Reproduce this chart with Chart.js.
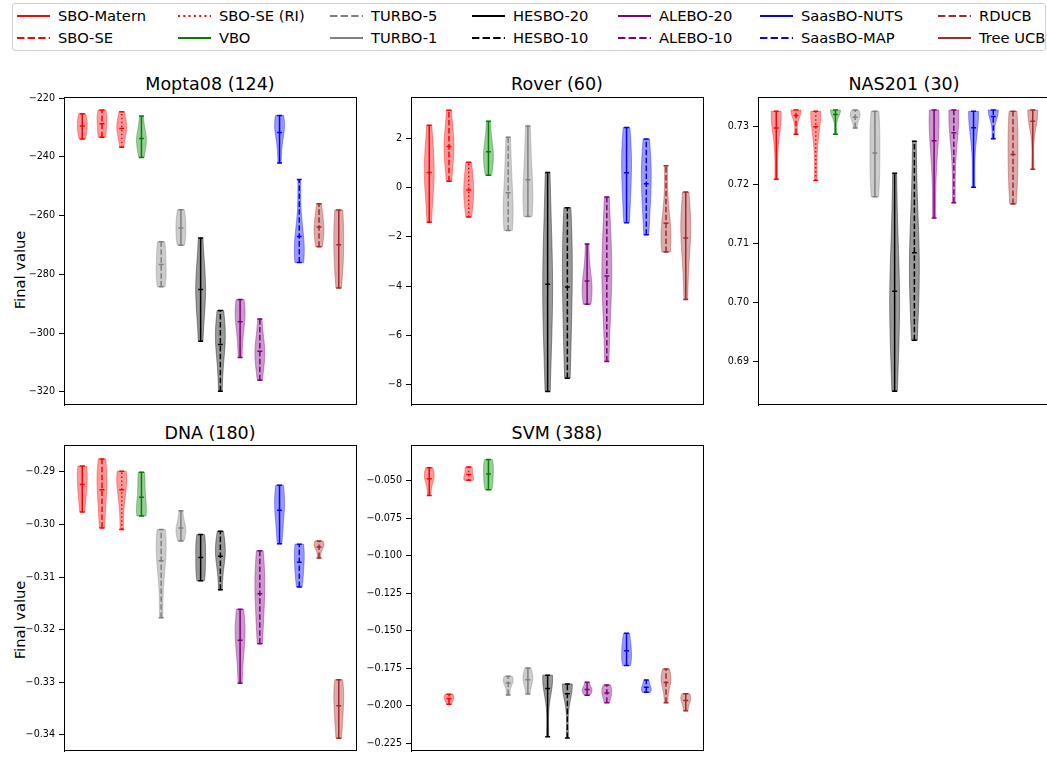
<!DOCTYPE html>
<html>
<head>
<meta charset="utf-8">
<script src="https://cdn.jsdelivr.net/npm/chart.js@4.4.1/dist/chart.umd.min.js"></script>
<style>
  html, body { margin: 0; padding: 0; background: #fff; }
  body { width: 1047px; height: 761px; overflow: hidden; position: relative; font-family: "DejaVu Sans", sans-serif; }
  .panel { position: absolute; }
  .title { position: absolute; font-size: 17.5px; color: #000; text-align: center; line-height: 22px; height: 22px; white-space: nowrap; }
  .ylab { position: absolute; font-size: 14.7px; color: #000; white-space: nowrap; transform: translate(-50%, -50%) rotate(-90deg); }
  #legend { position: absolute; left: 12px; top: 3px; width: 1032px; height: 46px; border: 1px solid #d0d0d0; border-radius: 3px; }
  .entry { position: absolute; height: 18px; line-height: 18px; font-size: 14.7px; color: #000; white-space: nowrap; }
  .entry svg { position: absolute; left: 0; top: 5px; }
  .entry span { position: absolute; left: 41px; top: 0; }
</style>
</head>
<body>
<div id="legend"></div>

<div class="title" style="left:110px; top:73px; width:200px;">Mopta08 (124)</div>
<div class="title" style="left:457px; top:73px; width:200px;">Rover (60)</div>
<div class="title" style="left:804px; top:73px; width:200px;">NAS201 (30)</div>
<div class="title" style="left:110px; top:422px; width:200px;">DNA (180)</div>
<div class="title" style="left:457px; top:422px; width:200px;">SVM (388)</div>

<div class="ylab" style="left:19px; top:270px;">Final value</div>
<div class="ylab" style="left:19px; top:620px;">Final value</div>

<div class="panel" style="left:4px; top:87px; width:355px; height:328px;"><canvas id="mopta"></canvas></div>
<div class="panel" style="left:351px; top:87px; width:355px; height:328px;"><canvas id="rover"></canvas></div>
<div class="panel" style="left:698px; top:87px; width:355px; height:328px;"><canvas id="nas"></canvas></div>
<div class="panel" style="left:4px; top:435px; width:355px; height:326px;"><canvas id="dna"></canvas></div>
<div class="panel" style="left:351px; top:435px; width:355px; height:326px;"><canvas id="svm"></canvas></div>

<script>
// methods, in the order they sit along each panel
const methods = ['SBO-Matern', 'SBO-SE', 'SBO-SE (RI)', 'VBO', 'TURBO-5', 'TURBO-1', 'HESBO-20', 'HESBO-10',
  'ALEBO-20', 'ALEBO-10', 'SaasBO-NUTS', 'SaasBO-MAP', 'RDUCB', 'Tree UCB'];

// final values of the runs
const moptaRuns = [
  [-233.9, -231.5, -229.3, -227.5, -225.3],
  [-233.3, -232.0, -227.6, -226.6, -224.0],
  [-236.7, -231.2, -230.0, -229.0, -224.6],
  [-240.2, -235.0, -233.8, -233.4, -226.1],
  [-284.2, -281.0, -277.4, -272.0, -268.9],
  [-270.1, -267.5, -264.2, -261.2, -258.0],
  [-302.8, -288.0, -284.0, -283.6, -267.6],
  [-319.8, -306.0, -301.4, -300.0, -292.3],
  [-308.3, -298.5, -293.6, -292.0, -288.6],
  [-316.1, -308.5, -306.0, -305.2, -295.2],
  [-242.1, -232.5, -229.8, -228.2, -225.9],
  [-276.0, -272.0, -270.0, -269.8, -247.7],
  [-270.6, -267.0, -264.0, -261.9, -256.0],
  [-284.7, -274.0, -271.5, -261.2, -258.1]
];
const roverRuns = [
  [-1.40, 0.20, 0.80, 0.97, 2.53],
  [0.26, 1.25, 1.75, 1.95, 3.14],
  [-1.19, -0.50, -0.10, 0.31, 1.03],
  [0.50, 1.10, 1.40, 1.60, 2.70],
  [-1.74, -1.10, -0.80, 0.54, 2.05],
  [-1.17, -0.60, -0.20, 1.07, 2.50],
  [-8.27, -5.00, -4.00, -2.95, 0.62],
  [-7.73, -5.50, -3.60, -2.51, -0.81],
  [-4.73, -4.30, -4.00, -3.63, -2.29],
  [-7.05, -4.00, -3.40, -3.07, -0.38],
  [-1.42, -0.20, 0.90, 1.33, 2.44],
  [-1.91, -0.50, 0.40, 0.83, 1.98],
  [-2.61, -2.00, -1.80, -1.68, 0.89],
  [-4.54, -2.30, -1.80, -1.38, -0.18]
];
const nasRuns = [
  [0.72097, 0.7310, 0.7317, 0.73218, 0.7325],
  [0.72862, 0.73235, 0.7325, 0.7327, 0.73273],
  [0.72075, 0.7316, 0.7322, 0.73245, 0.7325],
  [0.72862, 0.7323, 0.7326, 0.73272, 0.73273, 0.73273],
  [0.72967, 0.7313, 0.7318, 0.7320, 0.73273],
  [0.71797, 0.7212, 0.7255, 0.72988, 0.7325],
  [0.68491, 0.6975, 0.7025, 0.70253, 0.72196],
  [0.69356, 0.7040, 0.7080, 0.70924, 0.7274],
  [0.71436, 0.7270, 0.7312, 0.73221, 0.73273],
  [0.71697, 0.7295, 0.7325, 0.7325, 0.73273],
  [0.71958, 0.7317, 0.7324, 0.73247, 0.7325],
  [0.72784, 0.7322, 0.73258, 0.7327, 0.73273],
  [0.71675, 0.7215, 0.7250, 0.73015, 0.7325],
  [0.72263, 0.7318, 0.7324, 0.7327, 0.73272, 0.73273]
];
const dnaRuns = [
  [-0.29763, -0.2940, -0.2922, -0.28928, -0.28889],
  [-0.30064, -0.2960, -0.2920, -0.29074, -0.28752],
  [-0.30096, -0.2940, -0.2920, -0.29007, -0.28987],
  [-0.29837, -0.2975, -0.2965, -0.29157, -0.29006],
  [-0.31772, -0.3075, -0.3045, -0.30367, -0.30096],
  [-0.30312, -0.3016, -0.3006, -0.30049, -0.29739],
  [-0.3107, -0.3090, -0.3061, -0.30362, -0.30188],
  [-0.31241, -0.3065, -0.3052, -0.30467, -0.30127],
  [-0.33015, -0.3235, -0.3210, -0.31909, -0.31611],
  [-0.32264, -0.3165, -0.3120, -0.30964, -0.30497],
  [-0.30367, -0.2990, -0.2968, -0.29431, -0.29252],
  [-0.31186, -0.3090, -0.3070, -0.30431, -0.30373],
  [-0.30637, -0.3042, -0.3039, -0.30381, -0.30312],
  [-0.34063, -0.3370, -0.3336, -0.33152, -0.3295]
];
const svmRuns = [
  [-0.05991, -0.0490, -0.0470, -0.04627, -0.04132],
  [-0.19896, -0.1960, -0.1950, -0.19321, -0.19223],
  [-0.04974, -0.0490, -0.0475, -0.04208, -0.04093],
  [-0.05603, -0.0510, -0.0450, -0.03937, -0.03595],
  [-0.19268, -0.1850, -0.1832, -0.18254, -0.18018],
  [-0.19203, -0.1840, -0.1820, -0.17978, -0.17474],
  [-0.22053, -0.1860, -0.1820, -0.1810, -0.18098, -0.17953],
  [-0.22137, -0.1870, -0.1862, -0.18555, -0.18556, -0.18536],
  [-0.19288, -0.1905, -0.1890, -0.18831, -0.18426],
  [-0.19786, -0.1935, -0.1910, -0.18858, -0.18601],
  [-0.17306, -0.1695, -0.1640, -0.15846, -0.15168],
  [-0.19093, -0.1895, -0.1885, -0.1858, -0.18277],
  [-0.19786, -0.1850, -0.1825, -0.18155, -0.17539],
  [-0.20324, -0.1975, -0.1960, -0.19327, -0.19184]
];

// y ticks
const moptaTicks = [-320, -300, -280, -260, -240, -220];
const moptaTickLabels = ['\u2212320', '\u2212300', '\u2212280', '\u2212260', '\u2212240', '\u2212220'];
const roverTicks = [-8, -6, -4, -2, 0, 2];
const roverTickLabels = ['\u22128', '\u22126', '\u22124', '\u22122', '0', '2'];
const nasTicks = [0.69, 0.70, 0.71, 0.72, 0.73];
const nasTickLabels = ['0.69', '0.70', '0.71', '0.72', '0.73'];
const dnaTicks = [-0.34, -0.33, -0.32, -0.31, -0.30, -0.29];
const dnaTickLabels = ['\u22120.34', '\u22120.33', '\u22120.32', '\u22120.31', '\u22120.30', '\u22120.29'];
const svmTicks = [-0.225, -0.200, -0.175, -0.150, -0.125, -0.100, -0.075, -0.050];
const svmTickLabels = ['\u22120.225', '\u22120.200', '\u22120.175', '\u22120.150', '\u22120.125', '\u22120.100', '\u22120.075', '\u22120.050'];

// styles
const lineColors = ['#ff0000', '#ff0000', '#ff0000', '#008000', '#808080', '#808080', '#000000', '#000000',
  '#800080', '#800080', '#0000ff', '#0000ff', '#a52a2a', '#a52a2a'];
const lineStyles = ['solid', 'dashed', 'dotted', 'solid', 'dashed', 'solid', 'solid', 'dashed',
  'solid', 'dashed', 'solid', 'dashed', 'dashed', 'solid'];
const fillAlpha = 0.4;
const legendCols = [17, 178, 330, 472, 618, 760, 938];

function dashFor(style, lw) {
  if (style === 'dashed') return [3.7 * lw, 1.6 * lw];
  if (style === 'dotted') return [1 * lw, 1.65 * lw];
  return [];
}

function rgba(hex, a) {
  const r = parseInt(hex.slice(1, 3), 16), g = parseInt(hex.slice(3, 5), 16), b = parseInt(hex.slice(5, 7), 16);
  return `rgba(${r},${g},${b},${a})`;
}

// legend (html, figure wide)
const legendEl = document.getElementById('legend');
methods.forEach((name, i) => {
  const col = Math.floor(i / 2), row = i % 2;
  const d = document.createElement('div');
  d.className = 'entry';
  d.style.left = (legendCols[col] - 13) + 'px';
  d.style.top = (row === 0 ? 3 : 25) + 'px';
  const dash = dashFor(lineStyles[i], 2).join(' ');
  d.innerHTML = `<svg width="33" height="8"><line x1="0" y1="4" x2="33" y2="4" stroke="${lineColors[i]}" stroke-width="2"` +
    (dash ? ` stroke-dasharray="${dash}"` : '') + `/></svg><span>${name}</span>`;
  legendEl.appendChild(d);
});

// kernel density outline, scott bandwidth like matplotlib's violinplot
function kdeOutline(vals) {
  const n = vals.length;
  const m = vals.reduce((a, b) => a + b, 0) / n;
  const sd = Math.sqrt(vals.reduce((a, v) => a + (v - m) ** 2, 0) / (n - 1));
  const bw = sd * Math.pow(n, -0.2);
  const lo = Math.min(...vals), hi = Math.max(...vals);
  const pts = [];
  for (let k = 0; k < 100; k++) {
    const c = lo + (hi - lo) * k / 99;
    let d = 0;
    vals.forEach(v => { d += Math.exp(-0.5 * ((c - v) / bw) ** 2); });
    pts.push([c, d]);
  }
  const top = Math.max(...pts.map(p => p[1]));
  return pts.map(p => [p[0], 0.25 * p[1] / top]);
}

const violinPlugin = {
  id: 'violins',
  afterDatasetsDraw(chart) {
    const { ctx, chartArea, scales: { x, y } } = chart;
    ctx.save();
    ctx.beginPath();
    ctx.rect(chartArea.left, chartArea.top, chartArea.right - chartArea.left, chartArea.bottom - chartArea.top);
    ctx.clip();
    chart.data.datasets.forEach((ds, i) => {
      const vals = ds.runs;
      const pos = ds.data[0].x;
      const mean = ds.data[0].y;
      const lo = Math.min(...vals), hi = Math.max(...vals);
      const outline = kdeOutline(vals);

      // body
      ctx.beginPath();
      outline.forEach((p, k) => {
        const px = x.getPixelForValue(pos - p[1]), py = y.getPixelForValue(p[0]);
        if (k === 0) ctx.moveTo(px, py); else ctx.lineTo(px, py);
      });
      for (let k = outline.length - 1; k >= 0; k--) {
        ctx.lineTo(x.getPixelForValue(pos + outline[k][1]), y.getPixelForValue(outline[k][0]));
      }
      ctx.closePath();
      ctx.fillStyle = rgba(lineColors[i], fillAlpha);
      ctx.fill();
      ctx.strokeStyle = rgba(lineColors[i], fillAlpha);
      ctx.lineWidth = 1;
      ctx.setLineDash([]);
      ctx.stroke();

      // bar from min to max
      const cx = x.getPixelForValue(pos);
      ctx.strokeStyle = lineColors[i];
      ctx.lineWidth = 1.5;
      ctx.setLineDash(dashFor(lineStyles[i], 1.5));
      ctx.beginPath();
      ctx.moveTo(cx, y.getPixelForValue(lo));
      ctx.lineTo(cx, y.getPixelForValue(hi));
      ctx.stroke();

      // caps and mean
      ctx.setLineDash([]);
      const x0 = x.getPixelForValue(pos - 0.125), x1 = x.getPixelForValue(pos + 0.125);
      [lo, hi, mean].forEach(v => {
        const py = y.getPixelForValue(v);
        ctx.beginPath();
        ctx.moveTo(x0, py);
        ctx.lineTo(x1, py);
        ctx.stroke();
      });
    });
    ctx.restore();

    // axes frame
    ctx.save();
    ctx.strokeStyle = '#000';
    ctx.lineWidth = 1;
    ctx.strokeRect(Math.round(chartArea.left) + 0.5, Math.round(chartArea.top) + 0.5,
      Math.round(chartArea.right - chartArea.left) - 1, Math.round(chartArea.bottom - chartArea.top) - 1);
    ctx.restore();
  }
};

function makePanel(id, runs, yMin, yMax, ticks, tickLabels, padBottom) {
  const datasets = runs.map((vals, i) => ({
    label: methods[i],
    data: [{ x: i + 1, y: vals.reduce((a, b) => a + b, 0) / vals.length }],
    runs: vals,
    pointRadius: 0,
    showLine: false
  }));
  new Chart(document.getElementById(id), {
    type: 'scatter',
    data: { datasets },
    options: {
      responsive: true,
      maintainAspectRatio: false,
      animation: false,
      events: [],
      layout: { padding: { top: 10, right: 2, bottom: padBottom, left: 0 } },
      plugins: { legend: { display: false }, tooltip: { enabled: false }, title: { display: false } },
      scales: {
        x: { type: 'linear', min: 0.075, max: 14.925, display: false },
        y: {
          type: 'linear',
          min: yMin,
          max: yMax,
          afterFit: s => { s.width = 60; },
          afterBuildTicks: s => { s.ticks = ticks.map(v => ({ value: v })); },
          ticks: {
            callback: (v, idx) => tickLabels[idx],
            font: { family: 'DejaVu Sans', size: 9.6 },
            color: '#000',
            padding: 4
          },
          grid: { drawOnChartArea: false, drawTicks: true, tickLength: 5, color: '#000', lineWidth: 1 },
          border: { display: true, color: '#000', width: 1 }
        }
      }
    },
    plugins: [violinPlugin]
  });
}

makePanel('mopta', moptaRuns, -324.6, -219.6, moptaTicks, moptaTickLabels, 3);
makePanel('rover', roverRuns, -8.83, 3.68, roverTicks, roverTickLabels, 3);
makePanel('nas', nasRuns, 0.68251, 0.73494, nasTicks, nasTickLabels, 3);
makePanel('dna', dnaRuns, -0.34309, -0.28488, dnaTicks, dnaTickLabels, 1);
makePanel('svm', svmRuns, -0.23018, -0.02624, svmTicks, svmTickLabels, 1);
</script>
</body>
</html>
